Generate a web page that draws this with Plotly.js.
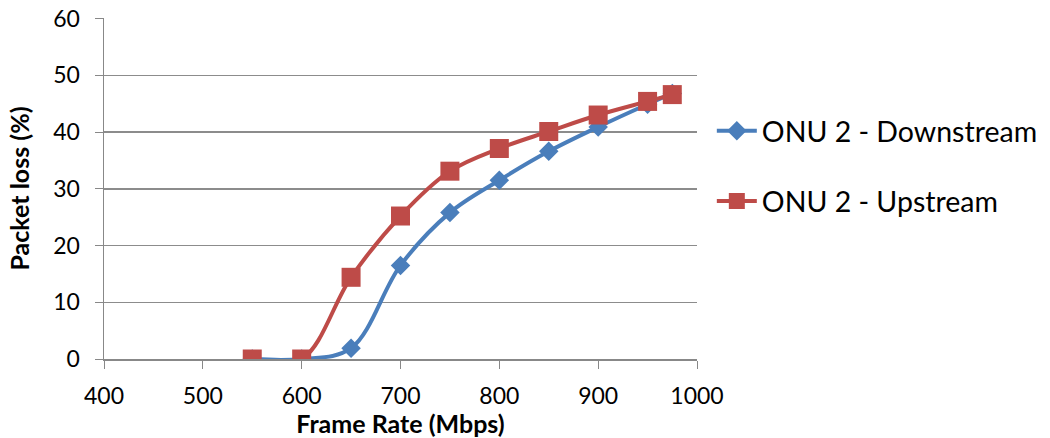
<!DOCTYPE html>
<html>
<head>
<meta charset="utf-8">
<script src="https://cdn.plot.ly/plotly-3.0.1.min.js"></script>
<style>
  html, body { margin: 0; padding: 0; background: #fff; }
  #chart { width: 1050px; height: 438px; }
</style>
</head>
<body>
<div id="chart"></div>
<script>
// Frame rate (Mbps) sampled for both directions
const frameRate = [550, 600, 650, 700, 750, 800, 850, 900, 950, 975];
// Packet loss (%) measured on ONU 2
const downstreamLoss = [0, 0, 1.9, 16.5, 25.8, 31.5, 36.6, 40.9, 44.9, 46.8];
const upstreamLoss   = [0, 0, 14.4, 25.2, 33.1, 37.1, 40.1, 43.0, 45.4, 46.6];

const seriesNames = ['ONU 2 - Downstream', 'ONU 2 - Upstream'];
const xTicks = [400, 500, 600, 700, 800, 900, 1000];
const yTicks = [0, 10, 20, 30, 40, 50, 60];

const FONT = 'Lato, "Open Sans", sans-serif';
const BLUE = '#4a7ebb';
const RED = '#be4b48';

// Downstream is drawn first so the upstream series sits on top of it
const traces = [
  {
    x: frameRate, y: downstreamLoss, name: seriesNames[0],
    type: 'scatter', mode: 'lines+markers', legendgroup: 'a',
    line: { color: BLUE, width: 4, shape: 'spline', smoothing: 1 },
    marker: { symbol: 'diamond', size: 15, color: BLUE }
  },
  {
    x: frameRate, y: upstreamLoss, name: seriesNames[1],
    type: 'scatter', mode: 'lines+markers', legendgroup: 'b',
    line: { color: RED, width: 4, shape: 'spline', smoothing: 1 },
    marker: { symbol: 'square', size: 19, color: RED }
  }
];

const layout = {
  width: 1050, height: 438,
  margin: { l: 104, r: 353, t: 18, b: 79, autoexpand: false },
  paper_bgcolor: '#fff', plot_bgcolor: '#fff',
  font: { family: FONT, size: 23, color: '#000' },
  showlegend: true,
  legend: {
    x: 1.025, xanchor: 'left', y: 0.565, yanchor: 'middle',
    traceorder: 'grouped', tracegroupgap: 30,
    font: { family: FONT, size: 28.5, color: '#000' },
    itemwidth: 40
  },
  xaxis: {
    range: [400, 1000], tickvals: xTicks, ticktext: xTicks.map(String),
    showgrid: false, zeroline: false,
    showline: true, linecolor: '#888', linewidth: 1.5,
    ticks: 'outside', ticklen: 8, tickcolor: '#888',
    ticklabelstandoff: 8,
    tickfont: { family: FONT, size: 23 },
    title: { text: '<b>Frame Rate (Mbps)</b>', font: { family: FONT, size: 25 }, standoff: 4 }
  },
  yaxis: {
    range: [0, 60.1], tickvals: yTicks, ticktext: yTicks.map(String),
    showgrid: true, gridcolor: '#8c8c8c', gridwidth: 1.5, zeroline: false,
    showline: true, linecolor: '#888', linewidth: 1.5,
    ticks: 'outside', ticklen: 8, tickcolor: '#888',
    ticklabelstandoff: 10,
    tickfont: { family: FONT, size: 23 },
    title: { text: '<b>Packet loss (%)</b>', font: { family: FONT, size: 25 }, standoff: 16 }
  }
};

Plotly.newPlot('chart', traces, layout, { displayModeBar: false, staticPlot: true });
</script>
</body>
</html>
